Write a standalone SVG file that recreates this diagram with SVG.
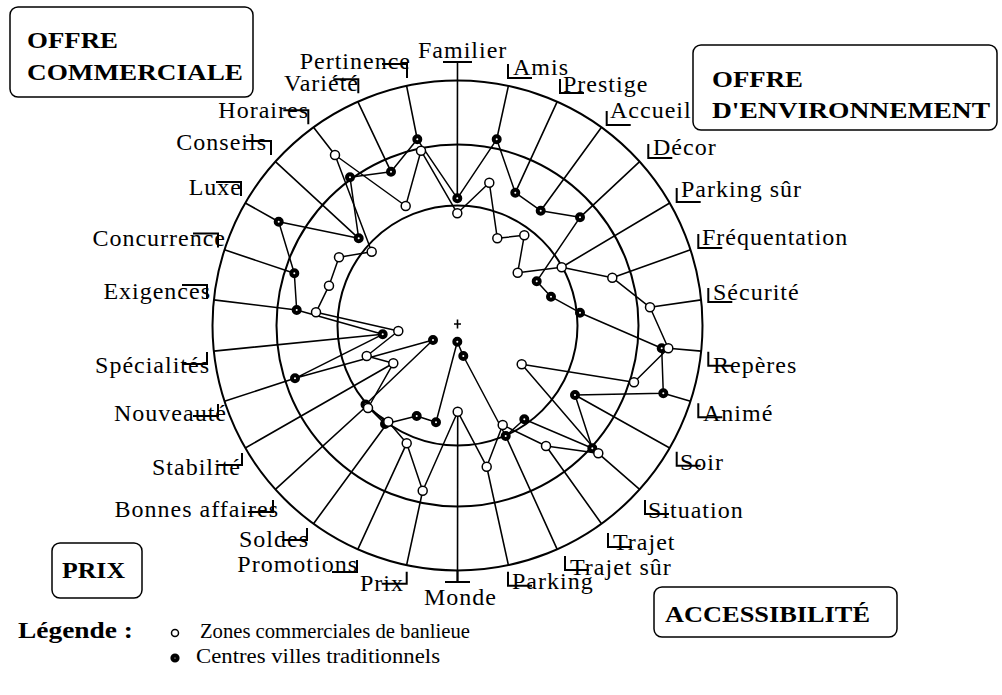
<svg xmlns="http://www.w3.org/2000/svg" width="1002" height="695" viewBox="0 0 1002 695">
<style>
.ring{fill:none;stroke:#000;stroke-width:2}
.ax{fill:none;stroke:#000;stroke-width:1.6}
.ser{fill:none;stroke:#000;stroke-width:1.5;stroke-linejoin:round}
.tk{fill:none;stroke:#000;stroke-width:2}
.lab{font-family:"Liberation Serif","Times New Roman",serif;font-size:24px;letter-spacing:1px;fill:#000}
.le{text-anchor:end}
.box{fill:#fff;stroke:#000;stroke-width:1.5}
.bt{font-family:"Liberation Serif","Times New Roman",serif;font-weight:bold;font-size:24px;fill:#000}
.lg{font-family:"Liberation Serif","Times New Roman",serif;font-size:20px;fill:#000}
.o{fill:#fff;stroke:#000;stroke-width:1.5}
.f{fill:#fff;stroke:#000;stroke-width:4}
</style>
<rect width="1002" height="695" fill="#fff"/>

<g id="grid">
<circle class="ring" cx="457.5" cy="325.5" r="245"/>
<circle class="ring" cx="457.5" cy="325.5" r="181"/>
<circle class="ring" cx="457.5" cy="325.5" r="120" stroke-width="1.6"/>
<path class="ax" d="M454 324h7M457.5 319.5v9" stroke-width="1.2"/>
</g>

<g id="connectors">
<path class="ax" d="M457.5 62L457.3 198.3M508.4 85.9L496.7 139.3M557.2 101.7L515.3 192.7M601.5 127.3L540.7 210.7M639.6 161.6L580 217.3M669.7 203L561.7 267.3M690.5 249.8L612.3 277.7M701.2 299.9L650 307.3M701.2 351.1L668.3 348.3M690.5 401.2L663.3 393.3M669.7 448L575 395M639.6 489.4L598.3 453.3M601.5 523.7L546 446M557.2 549.3L505.7 436M508.4 565.2L486.7 466.7M457.5 582L457.7 411.7M406.6 565.2L422.7 490.7M357.8 549.3L406.7 443.3M313.5 523.7L388.3 421.7M275.4 489.4L366.7 406M245.3 448L393.3 363.3M224.5 401.2L295 378.3M213.8 351.1L382.7 334.3M213.8 299.9L296.7 310M224.5 249.8L294.3 273.3M245.3 203L278.7 221.7M275.4 161.6L358.7 238.3M313.5 127.3L335 155M357.8 101.7L391 171.7M406.6 85.9L417.3 139.3"/>
<polygon class="ser" points="457.3,198.3 496.7,139.3 515.3,192.7 540.7,210.7 580,217.3 536.7,281.3 551,296.7 580,312.7 661.7,348.3 663.3,393.3 575,395 592.3,448.3 524.3,419.3 505.7,436 463.3,356 457.3,341.7 436,422.3 416.7,416 385,424 365.5,404.5 433,340 295,378.3 382.7,334.3 296.7,310 294.3,273.3 278.7,221.7 358.7,238.3 350,177.3 391,171.7 417.3,139.3"/>
<polygon class="ser" points="457.3,213.3 489.3,182.7 497.3,238.3 524.3,235.3 517.7,272.7 561.7,267.3 612.3,277.7 650,307.3 668.3,348.3 634,382.3 521.7,364.3 598.3,453.3 546,446 502.7,425 486.7,466.7 457.7,411.7 422.7,490.7 406.7,443.3 388.3,421.7 368,408 393.3,363.3 366.7,356 398.3,331 316,312.3 329,285.7 339,257.3 371.7,251.7 335,155 405.7,206 421,150.7"/>
</g>

<g id="ticks">
<path class="tk" d="M443 62h29M445 582h25M457.5 570v12
M508 64v14h24M560 79v14h24M606.7 111v14h24M648.3 144v14h24M676.7 188v14h24M698.3 234v14h24M708.3 288v14h24
M708.3 351.7v14h24M698.3 403.3v14h24M676.7 451.7v14h24M645 500v14h24M608 533v14h24M565 556v14h24M508 571.7v14h24
M406.7 571.7v12h-25M357 560v12h-25M307 528v12h-25M273 500v12h-25M242 453v12h-25M218 404v12h-25M207 352v12h-25
M207 299v-14h-25M218 247.6v-14h-25M241 196v-14h-25M271 155v-14h-25M308.3 124.3v-14h-25M358.3 93.3v-14h-25M407 78v-14h-25"/>
</g>

<g id="markers-filled">
<circle class="f" r="3" cx="457.3" cy="198.3"/><circle class="f" r="3" cx="496.7" cy="139.3"/><circle class="f" r="3" cx="515.3" cy="192.7"/><circle class="f" r="3" cx="540.7" cy="210.7"/><circle class="f" r="3" cx="580" cy="217.3"/><circle class="f" r="3" cx="536.7" cy="281.3"/><circle class="f" r="3" cx="551" cy="296.7"/><circle class="f" r="3" cx="580" cy="312.7"/><circle class="f" r="3" cx="661.7" cy="348.3"/><circle class="f" r="3" cx="663.3" cy="393.3"/><circle class="f" r="3" cx="575" cy="395"/><circle class="f" r="3" cx="592.3" cy="448.3"/><circle class="f" r="3" cx="524.3" cy="419.3"/><circle class="f" r="3" cx="505.7" cy="436"/><circle class="f" r="3" cx="463.3" cy="356"/><circle class="f" r="3" cx="457.3" cy="341.7"/><circle class="f" r="3" cx="436" cy="422.3"/><circle class="f" r="3" cx="416.7" cy="416"/><circle class="f" r="3" cx="385" cy="424"/><circle class="f" r="3" cx="365.5" cy="404.5"/><circle class="f" r="3" cx="433" cy="340"/><circle class="f" r="3" cx="295" cy="378.3"/><circle class="f" r="3" cx="382.7" cy="334.3"/><circle class="f" r="3" cx="296.7" cy="310"/><circle class="f" r="3" cx="294.3" cy="273.3"/><circle class="f" r="3" cx="278.7" cy="221.7"/><circle class="f" r="3" cx="358.7" cy="238.3"/><circle class="f" r="3" cx="350" cy="177.3"/><circle class="f" r="3" cx="391" cy="171.7"/><circle class="f" r="3" cx="417.3" cy="139.3"/>
</g>
<g id="markers-open">
<circle class="o" r="4.5" cx="457.3" cy="213.3"/><circle class="o" r="4.5" cx="489.3" cy="182.7"/><circle class="o" r="4.5" cx="497.3" cy="238.3"/><circle class="o" r="4.5" cx="524.3" cy="235.3"/><circle class="o" r="4.5" cx="517.7" cy="272.7"/><circle class="o" r="4.5" cx="561.7" cy="267.3"/><circle class="o" r="4.5" cx="612.3" cy="277.7"/><circle class="o" r="4.5" cx="650" cy="307.3"/><circle class="o" r="4.5" cx="668.3" cy="348.3"/><circle class="o" r="4.5" cx="634" cy="382.3"/><circle class="o" r="4.5" cx="521.7" cy="364.3"/><circle class="o" r="4.5" cx="598.3" cy="453.3"/><circle class="o" r="4.5" cx="546" cy="446"/><circle class="o" r="4.5" cx="502.7" cy="425"/><circle class="o" r="4.5" cx="486.7" cy="466.7"/><circle class="o" r="4.5" cx="457.7" cy="411.7"/><circle class="o" r="4.5" cx="422.7" cy="490.7"/><circle class="o" r="4.5" cx="406.7" cy="443.3"/><circle class="o" r="4.5" cx="388.3" cy="421.7"/><circle class="o" r="4.5" cx="368" cy="408"/><circle class="o" r="4.5" cx="393.3" cy="363.3"/><circle class="o" r="4.5" cx="366.7" cy="356"/><circle class="o" r="4.5" cx="398.3" cy="331"/><circle class="o" r="4.5" cx="316" cy="312.3"/><circle class="o" r="4.5" cx="329" cy="285.7"/><circle class="o" r="4.5" cx="339" cy="257.3"/><circle class="o" r="4.5" cx="371.7" cy="251.7"/><circle class="o" r="4.5" cx="335" cy="155"/><circle class="o" r="4.5" cx="405.7" cy="206"/><circle class="o" r="4.5" cx="421" cy="150.7"/>
</g>

<g id="labels">
<text class="lab" x="418" y="58">Familier</text>
<text class="lab" x="513" y="75">Amis</text>
<text class="lab" x="563" y="92">Prestige</text>
<text class="lab" x="610" y="118">Accueil</text>
<text class="lab" x="653" y="155">Décor</text>
<text class="lab" x="681" y="197">Parking sûr</text>
<text class="lab" x="702" y="245">Fréquentation</text>
<text class="lab" x="713" y="300">Sécurité</text>
<text class="lab" x="713" y="373">Repères</text>
<text class="lab" x="703" y="421">Animé</text>
<text class="lab" x="680" y="470">Soir</text>
<text class="lab" x="648" y="518">Situation</text>
<text class="lab" x="613" y="550">Trajet</text>
<text class="lab" x="570" y="575">Trajet sûr</text>
<text class="lab" x="512" y="589">Parking</text>
<text class="lab" x="424" y="605">Monde</text>
<text class="lab le" x="404" y="591">Prix</text>
<text class="lab le" x="358" y="572">Promotions</text>
<text class="lab le" x="309" y="547">Soldes</text>
<text class="lab le" x="279" y="517">Bonnes affaires</text>
<text class="lab le" x="241" y="475">Stabilité</text>
<text class="lab le" x="227" y="421">Nouveauté</text>
<text class="lab le" x="210" y="373">Spécialités</text>
<text class="lab le" x="211" y="299">Exigences</text>
<text class="lab le" x="226" y="246">Concurrence</text>
<text class="lab le" x="242" y="195">Luxe</text>
<text class="lab le" x="267" y="150">Conseils</text>
<text class="lab le" x="309" y="118">Horaires</text>
<text class="lab le" x="359" y="91">Variété</text>
<text class="lab le" x="411" y="69">Pertinence</text>
</g>

<g id="box-commerciale">
<rect class="box" x="10" y="7" width="243" height="90" rx="8"/>
<text class="bt" x="27" y="48" textLength="91" lengthAdjust="spacingAndGlyphs">OFFRE</text>
<text class="bt" x="27" y="80" textLength="216" lengthAdjust="spacingAndGlyphs">COMMERCIALE</text>
</g>
<g id="box-environnement">
<rect class="box" x="693" y="45" width="304" height="85" rx="8"/>
<text class="bt" x="712" y="87" textLength="91" lengthAdjust="spacingAndGlyphs">OFFRE</text>
<text class="bt" x="712" y="118" textLength="278" lengthAdjust="spacingAndGlyphs">D'ENVIRONNEMENT</text>
</g>
<g id="box-prix">
<rect class="box" x="52" y="543" width="90" height="55" rx="8"/>
<text class="bt" x="62" y="578" textLength="63" lengthAdjust="spacingAndGlyphs">PRIX</text>
</g>
<g id="box-accessibilite">
<rect class="box" x="654" y="587" width="243" height="50" rx="8"/>
<text class="bt" x="665" y="622" textLength="205" lengthAdjust="spacingAndGlyphs">ACCESSIBILITÉ</text>
</g>

<g id="legend">
<text class="bt" x="18" y="638" textLength="115" lengthAdjust="spacingAndGlyphs">Légende :</text>
<circle class="o" r="3.5" cx="175" cy="633"/>
<text class="lg" x="200" y="638" textLength="270" lengthAdjust="spacingAndGlyphs">Zones commerciales de banlieue</text>
<circle class="f" r="2.6" cx="175" cy="658" stroke-width="3.4"/>
<text class="lg" x="196" y="663" textLength="244" lengthAdjust="spacingAndGlyphs">Centres villes traditionnels</text>
</g>
</svg>
